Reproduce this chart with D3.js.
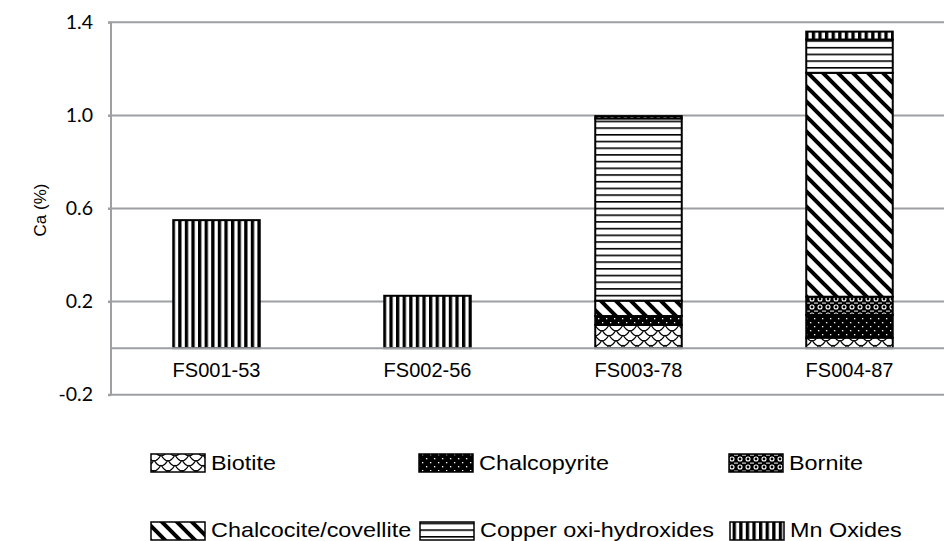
<!DOCTYPE html>
<html><head><meta charset="utf-8">
<script src="https://cdn.jsdelivr.net/npm/d3@7/dist/d3.min.js"></script>
<style>body{margin:0;background:#fff}svg{display:block}</style>
</head><body><svg id="c" width="944" height="541"></svg>
<script>
const categories = ["FS001-53","FS002-56","FS003-78","FS004-87"];
const seriesNames = ["Biotite","Chalcopyrite","Bornite","Chalcocite/covellite","Copper oxi-hydroxides","Mn Oxides"];
const biotite      = [0,    0,    0.10,  0.045];
const chalcopyrite = [0,    0,    0.038, 0.098];
const bornite      = [0,    0,    0,     0.078];
const chalcocite   = [0,    0,    0.066, 0.962];
const copperOxi    = [0,    0,    0.783, 0.143];
const mnOxides     = [0.55, 0.225,0.010, 0.034];
const yTicks = [-0.2, 0.2, 0.6, 1.0, 1.4];

const svg = d3.select("#c");
const defs = svg.append("defs");
function pat(id,w,h){return defs.append("pattern").attr("id",id).attr("patternUnits","userSpaceOnUse").attr("width",w).attr("height",h);}
let p;
p = pat("p0",14,10); p.append("rect").attr("width",14).attr("height",10).attr("fill","#fff");
p.append("path").attr("d","M0,0 Q7,12 14,0 M-7,5 Q0,17 7,5 M7,5 Q14,17 21,5 M-7,-5 Q0,7 7,-5 M7,-5 Q14,7 21,-5")
  .attr("fill","none").attr("stroke","#000").attr("stroke-width",1.2);
p = pat("p1",8,8); p.append("rect").attr("width",8).attr("height",8).attr("fill","#000");
p.append("rect").attr("x",2).attr("y",2).attr("width",1.3).attr("height",1.3).attr("fill","#fff");
p.append("rect").attr("x",6).attr("y",6).attr("width",1.3).attr("height",1.3).attr("fill","#fff");
p = pat("p2",8,8); p.append("rect").attr("width",8).attr("height",8).attr("fill","#000");
p.append("circle").attr("cx",4).attr("cy",3).attr("r",2).attr("fill","none").attr("stroke","#fff").attr("stroke-width",1.1);
p.append("rect").attr("x",0).attr("y",6.6).attr("width",2).attr("height",1).attr("fill","#fff");
p.append("rect").attr("x",6).attr("y",6.6).attr("width",2).attr("height",1).attr("fill","#fff");
p = pat("p3",15,15); p.append("rect").attr("width",15).attr("height",15).attr("fill","#fff");
p.append("path").attr("d","M-5,-5 L20,20 M-5,10 L5,20 M10,-5 L20,5").attr("stroke","#000").attr("stroke-width",4);
p = pat("p4",7,6.7); p.append("rect").attr("width",7).attr("height",6.7).attr("fill","#fff");
p.append("rect").attr("y",0).attr("width",7).attr("height",1.6).attr("fill","#000");
p = pat("p5",6.6,6); p.append("rect").attr("width",6.6).attr("height",6).attr("fill","#fff");
p.append("rect").attr("x",0).attr("width",3.3).attr("height",6).attr("fill","#000");

const x = d3.scaleBand().domain(categories).range([111,955]).paddingInner(0.59).paddingOuter(0.295);
const y = d3.scaleLinear().domain([-0.2,1.4]).range([394.7,22.3]);

const grid = svg.append("g");
grid.selectAll("line").data(yTicks).join("line")
  .attr("x1",108).attr("x2",944).attr("y1",d=>y(d)).attr("y2",d=>y(d))
  .attr("stroke","#9d9fa2").attr("stroke-width",2);
const yAxis = svg.append("g").attr("transform","translate(111,0)")
  .call(d3.axisLeft(y).tickValues(yTicks).tickFormat(d=>d.toFixed(1)).tickSize(3).tickPadding(15));
yAxis.select(".domain").attr("stroke","#9d9fa2").attr("stroke-width",2).attr("d","M0,"+y(1.4)+"V"+y(-0.2));
yAxis.selectAll(".tick line").attr("stroke","#9d9fa2").attr("stroke-width",2);
yAxis.selectAll("text").attr("font-family","Lato, 'Open Sans', sans-serif").attr("font-size",19.5).attr("fill","#000");

const series = [biotite,chalcopyrite,bornite,chalcocite,copperOxi,mnOxides];
const rows = categories.map((c,i)=>{const o={cat:c}; seriesNames.forEach((s,j)=>o[s]=series[j][i]); return o;});
const stack = d3.stack().keys(seriesNames)(rows);
const g = svg.append("g");
stack.forEach((s,j)=>{
  g.selectAll(null).data(s.filter(d=>d[1]-d[0]>0)).join("rect")
    .attr("x",d=>x(d.data.cat)).attr("width",x.bandwidth())
    .attr("y",d=>y(d[1])).attr("height",d=>y(d[0])-y(d[1]))
    .attr("fill","url(#p"+j+")").attr("stroke","#000").attr("stroke-width",2);
});
svg.append("line").attr("x1",111).attr("x2",944).attr("y1",y(0)).attr("y2",y(0)).attr("stroke","#9d9fa2").attr("stroke-width",2);
svg.append("g").selectAll("text").data(categories).join("text")
  .attr("x",d=>x(d)+x.bandwidth()/2).attr("y",y(0)+29).attr("text-anchor","middle")
  .attr("font-family","'Liberation Sans', Arial, sans-serif").attr("font-size",20).text(d=>d);
svg.append("text").attr("transform","translate(46,210) rotate(-90)").attr("text-anchor","middle")
  .attr("font-family","'Liberation Sans', Arial, sans-serif").attr("font-size",17).text("Ca (%)");

// legend: [x, swatch top, text baseline]
const legPos = [[151,454,470],[419,454,470],[729,454,470],[151,522,537],[420,522,537],[730,522,537]];
const lg = svg.append("g");
seriesNames.forEach((s,j)=>{
  const [lx,ty,bl]=legPos[j];
  lg.append("rect").attr("x",lx).attr("y",ty).attr("width",54).attr("height",18)
    .attr("fill","url(#p"+j+")").attr("stroke","#000").attr("stroke-width",1.5);
  lg.append("text").attr("transform",`translate(${lx+60},${bl}) scale(1.17,1)`)
    .attr("font-family","'Liberation Sans', Arial, sans-serif")
    .attr("font-size",20).text(s);
});
</script></body></html>
